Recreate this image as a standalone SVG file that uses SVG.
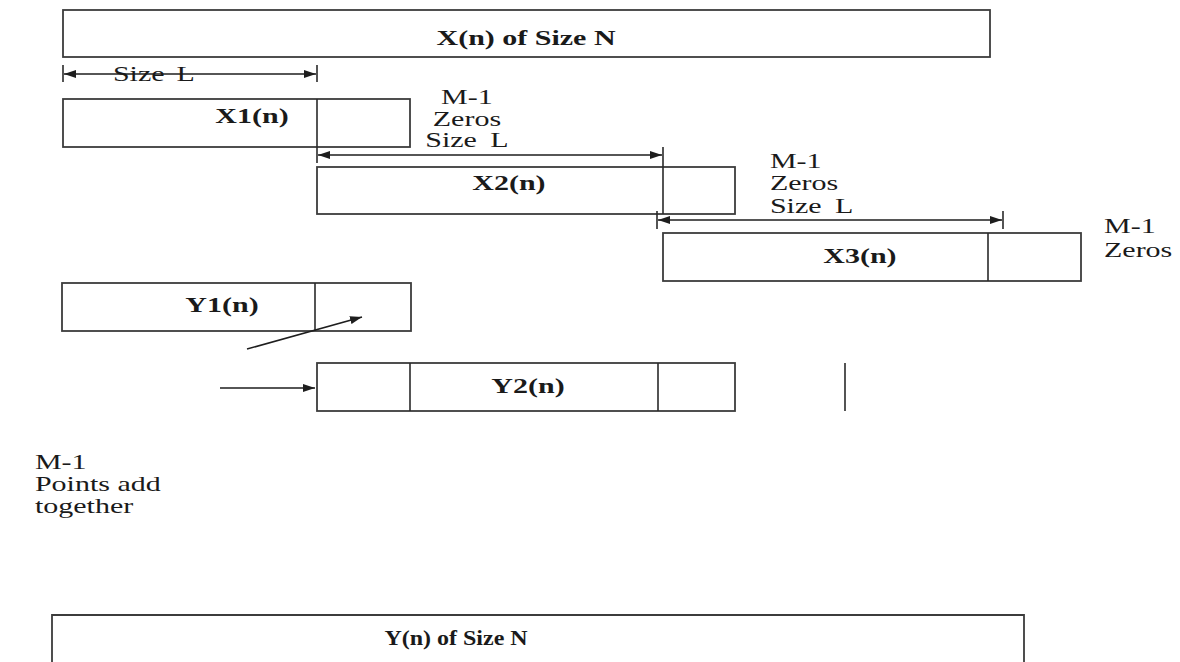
<svg xmlns="http://www.w3.org/2000/svg" width="1180" height="662" viewBox="0 0 1180 662">
<style>
.box{fill:#fff;stroke:#3c3c3c;stroke-width:1.8}
.ln{fill:none;stroke:#2a2a2a;stroke-width:1.6}
.con{fill:none;stroke:#1e1e1e;stroke-width:1.6}
.t{font-family:"Liberation Serif","Times New Roman",serif;font-size:20px;fill:#1a1a1a}
.b{font-weight:bold}
.m{text-anchor:middle}
</style>
<defs>
<marker id="ah" viewBox="0 0 12 8" refX="12" refY="4" markerWidth="12" markerHeight="8" markerUnits="userSpaceOnUse" orient="auto-start-reverse">
<path d="M0,0 L12,4 L0,8 Z" fill="#1e1e1e"/>
</marker>
</defs>
<rect width="1180" height="662" fill="#fff"/>

<g id="x-full"><rect class="box" x="63" y="10" width="927" height="47"/></g>
<g id="x1"><rect class="box" x="63" y="99" width="347" height="48"/><line class="ln" x1="317" y1="99" x2="317" y2="163"/></g>
<g id="x2"><rect class="box" x="317" y="167" width="418" height="47"/><line class="ln" x1="663" y1="147" x2="663" y2="214"/></g>
<g id="x3"><rect class="box" x="663" y="233" width="418" height="48"/><line class="ln" x1="988" y1="233" x2="988" y2="281"/></g>
<g id="y1"><rect class="box" x="62" y="283" width="349" height="48"/><line class="ln" x1="315" y1="283" x2="315" y2="331"/></g>
<g id="y2"><rect class="box" x="317" y="363" width="418" height="48"/><line class="ln" x1="410" y1="363" x2="410" y2="411"/><line class="ln" x1="658" y1="363" x2="658" y2="411"/></g>
<g id="mark"><line class="ln" x1="845" y1="363" x2="845" y2="411"/></g>
<g id="y-full"><path class="box" d="M52,670 V615 H1024 V670"/></g>

<g id="connectors">
<line class="ln" x1="63" y1="65" x2="63" y2="82"/>
<line class="ln" x1="317" y1="65" x2="317" y2="82"/>
<line class="con" x1="64" y1="74" x2="316" y2="74" marker-start="url(#ah)" marker-end="url(#ah)"/>
<line class="con" x1="318" y1="155" x2="662" y2="155" marker-start="url(#ah)" marker-end="url(#ah)"/>
<line class="ln" x1="657" y1="211" x2="657" y2="229"/>
<line class="ln" x1="1003" y1="211" x2="1003" y2="229"/>
<line class="con" x1="658" y1="220" x2="1002" y2="220" marker-start="url(#ah)" marker-end="url(#ah)"/>
<line class="con" x1="247" y1="349" x2="362" y2="317" marker-end="url(#ah)"/>
<line class="con" x1="220" y1="388" x2="315" y2="388" marker-end="url(#ah)"/>
</g>

<g id="labels" transform="scale(1.5 1)">
<text class="t b m" x="350.7" y="45">X(n) of Size N</text>
<text class="t" x="75.3" y="81" word-spacing="3">Size L</text>
<text class="t b m" x="168" y="123">X1(n)</text>
<text class="t m" x="311.3" y="104">M-1</text>
<text class="t m" x="311.3" y="126">Zeros</text>
<text class="t m" x="311.3" y="147" word-spacing="4">Size L</text>
<text class="t b m" x="339.3" y="190">X2(n)</text>
<text class="t" x="513.3" y="168">M-1</text>
<text class="t" x="513.3" y="190">Zeros</text>
<text class="t" x="513.3" y="213" word-spacing="4">Size L</text>
<text class="t" x="736" y="233">M-1</text>
<text class="t" x="736" y="257">Zeros</text>
<text class="t b m" x="573.3" y="263">X3(n)</text>
<text class="t b m" x="148" y="312">Y1(n)</text>
<text class="t b m" x="352" y="393">Y2(n)</text>
<text class="t" x="23.3" y="469">M-1</text>
<text class="t" x="23.3" y="491">Points add</text>
<text class="t" x="23.3" y="513">together</text>
</g>
<g id="bottom-label" transform="scale(1.2 1)">
<text class="t b m" x="380" y="645">Y(n) of Size N</text>
</g>
</svg>
